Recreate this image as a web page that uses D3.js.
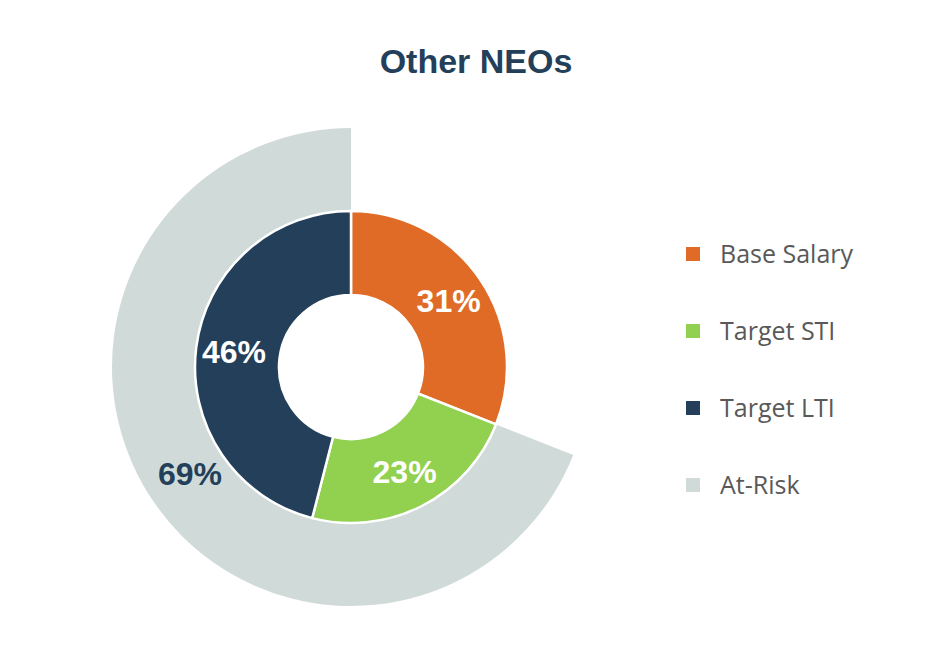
<!DOCTYPE html>
<html><head><meta charset="utf-8">
<script src="https://cdn.jsdelivr.net/npm/d3@7"></script>
<style>body{margin:0;background:#fff}</style>
</head><body>
<svg id="chart" width="934" height="667"></svg>
<script>
var categories = ['Base Salary', 'Target STI', 'Target LTI'];
var values = [31, 23, 46];
var colors = ['#e06b27', '#92d050', '#243f5a'];
var atRisk = 69;
var legendLabels = ['Base Salary', 'Target STI', 'Target LTI', 'At-Risk'];
var legendColors = ['#e06b27', '#92d050', '#243f5a', '#d0dbd9'];

var svg = d3.select('#chart');
var cx = 351, cy = 367;
var g = svg.append('g').attr('transform', 'translate(' + cx + ',' + cy + ')');

svg.append('text').attr('x', 476).attr('y', 73).attr('text-anchor', 'middle')
  .style('font-family', '"Liberation Sans Narrow", "Liberation Sans", sans-serif')
  .style('font-weight', 'bold').style('font-size', '34px').style('fill', '#243f5a')
  .text('Other NEOs');

// outer at-risk ring, ends at 12 o'clock
var angle = d3.scaleLinear().domain([0, 100]).range([0, 2 * Math.PI]);
var outerArc = d3.arc().innerRadius(150).outerRadius(239);
g.append('path')
  .attr('d', outerArc({startAngle: angle(100 - atRisk), endAngle: angle(100)}))
  .style('fill', '#d0dbd9');

var pie = d3.pie().sort(null).value(function(d) { return d; });
var arc = d3.arc().innerRadius(72).outerRadius(156);
var slices = pie(values);
g.selectAll('path.slice').data(slices).enter().append('path')
  .attr('class', 'slice')
  .attr('d', arc)
  .style('fill', function(d, i) { return colors[i]; })
  .style('stroke', '#fff').style('stroke-width', 2.5);

var labelArc = d3.arc().innerRadius(118).outerRadius(118);
g.selectAll('text.lbl').data(slices).enter().append('text')
  .attr('class', 'lbl')
  .attr('transform', function(d) { var c = labelArc.centroid(d); return 'translate(' + c[0] + ',' + (c[1] + 11) + ')'; })
  .attr('text-anchor', 'middle')
  .style('font-family', '"Liberation Sans Narrow", "Liberation Sans", sans-serif')
  .style('font-weight', 'bold').style('font-size', '32px').style('fill', '#fff')
  .text(function(d) { return d.value + '%'; });

g.append('text').attr('x', -161).attr('y', 118).attr('text-anchor', 'middle')
  .style('font-family', '"Liberation Sans Narrow", "Liberation Sans", sans-serif')
  .style('font-weight', 'bold').style('font-size', '32px').style('fill', '#243f5a')
  .text(atRisk + '%');

var ly = d3.scalePoint().domain(legendLabels).range([254, 485]);
var leg = svg.selectAll('g.leg').data(legendLabels).enter().append('g')
  .attr('transform', function(d) { return 'translate(686,' + ly(d) + ')'; });
leg.append('rect').attr('x', 0).attr('y', -7).attr('width', 14).attr('height', 14)
  .style('fill', function(d, i) { return legendColors[i]; });
leg.append('text').attr('x', 34).attr('y', 9)
  .style('font-family', '"Open Sans", sans-serif').style('font-size', '25px').style('fill', '#595959')
  .text(function(d) { return d; });
</script>
</body></html>
